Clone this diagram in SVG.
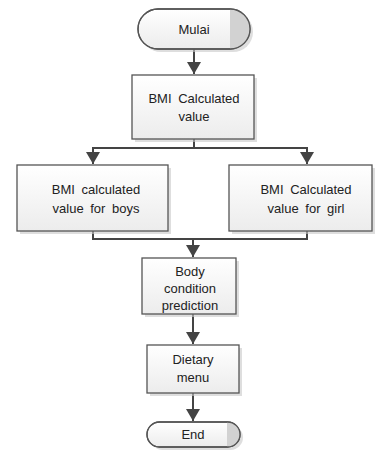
<svg xmlns="http://www.w3.org/2000/svg" width="375" height="455" viewBox="0 0 375 455">
<style>
.box{fill:url(#g);stroke:#555;stroke-width:1.3}
.term{fill:url(#g);stroke:#555;stroke-width:1.3}
.shade{fill:#d2d2d2}
.sh{fill:#c8c8c8;opacity:0.6}
.t{font-family:"Liberation Sans",Arial,sans-serif;font-size:13px;fill:#222;text-anchor:middle;word-spacing:3px}
.c{fill:none;stroke:#444;stroke-width:2}
</style>
<defs>
<linearGradient id="g" x1="0" y1="0" x2="0" y2="1">
<stop offset="0" stop-color="#ffffff"/>
<stop offset="1" stop-color="#ececec"/>
</linearGradient>
<marker id="a" markerUnits="userSpaceOnUse" markerWidth="14" markerHeight="14" refX="12" refY="7" orient="auto">
<path d="M0,0 L12,7 L0,14 Z" fill="#444"/>
</marker>
<clipPath id="cm"><rect x="138" y="9" width="112" height="40" rx="20"/></clipPath>
<clipPath id="ce"><rect x="147" y="422" width="93" height="25" rx="12.5"/></clipPath>
</defs>

<g id="connectors">
<line class="c" x1="194" y1="49" x2="194" y2="74" marker-end="url(#a)"/>
<polyline class="c" points="194,139 194,148 93,148 93,164" marker-end="url(#a)"/>
<polyline class="c" points="194,148 307,148 307,164" marker-end="url(#a)"/>
<polyline class="c" points="93,231 93,239 307,239 307,231"/>
<line class="c" x1="193" y1="239" x2="193" y2="257" marker-end="url(#a)"/>
<line class="c" x1="193" y1="314" x2="193" y2="344" marker-end="url(#a)"/>
<line class="c" x1="193" y1="393" x2="193" y2="421" marker-end="url(#a)"/>
</g>

<g id="start">
<rect class="sh" x="141" y="12" width="112" height="40" rx="20"/>
<rect class="term" x="138" y="9" width="112" height="40" rx="20"/>
<rect class="shade" x="230" y="9" width="22" height="40" clip-path="url(#cm)"/>
<rect x="138" y="9" width="112" height="40" rx="20" fill="none" stroke="#555" stroke-width="1.3"/>
<text class="t" x="194" y="34">Mulai</text>
</g>

<g id="bmi">
<rect class="sh" x="135" y="78" width="122" height="64"/>
<rect class="box" x="132" y="75" width="122" height="64"/>
<text class="t" x="194" y="103">BMI Calculated</text>
<text class="t" x="194" y="121">value</text>
</g>

<g id="boys">
<rect class="sh" x="20" y="168" width="151" height="66"/>
<rect class="box" x="17" y="165" width="151" height="66"/>
<text class="t" x="96" y="194">BMI calculated</text>
<text class="t" x="96" y="213">value for boys</text>
</g>

<g id="girl">
<rect class="sh" x="232" y="168" width="143" height="66"/>
<rect class="box" x="229" y="165" width="143" height="66"/>
<text class="t" x="306" y="194">BMI Calculated</text>
<text class="t" x="306" y="213">value for girl</text>
</g>

<g id="predict">
<rect class="sh" x="145" y="261" width="94" height="56"/>
<rect class="box" x="142" y="258" width="94" height="56"/>
<text class="t" x="190" y="276">Body</text>
<text class="t" x="190" y="293">condition</text>
<text class="t" x="190" y="310">prediction</text>
</g>

<g id="menu">
<rect class="sh" x="150" y="348" width="92" height="48"/>
<rect class="box" x="147" y="345" width="92" height="48"/>
<text class="t" x="193" y="364">Dietary</text>
<text class="t" x="193" y="382">menu</text>
</g>

<g id="end">
<rect class="sh" x="150" y="425" width="93" height="25" rx="12.5"/>
<rect class="term" x="147" y="422" width="93" height="25" rx="12.5"/>
<rect class="shade" x="227" y="422" width="14" height="25" clip-path="url(#ce)"/>
<rect x="147" y="422" width="93" height="25" rx="12.5" fill="none" stroke="#555" stroke-width="1.3"/>
<text class="t" x="193" y="439">End</text>
</g>
</svg>
